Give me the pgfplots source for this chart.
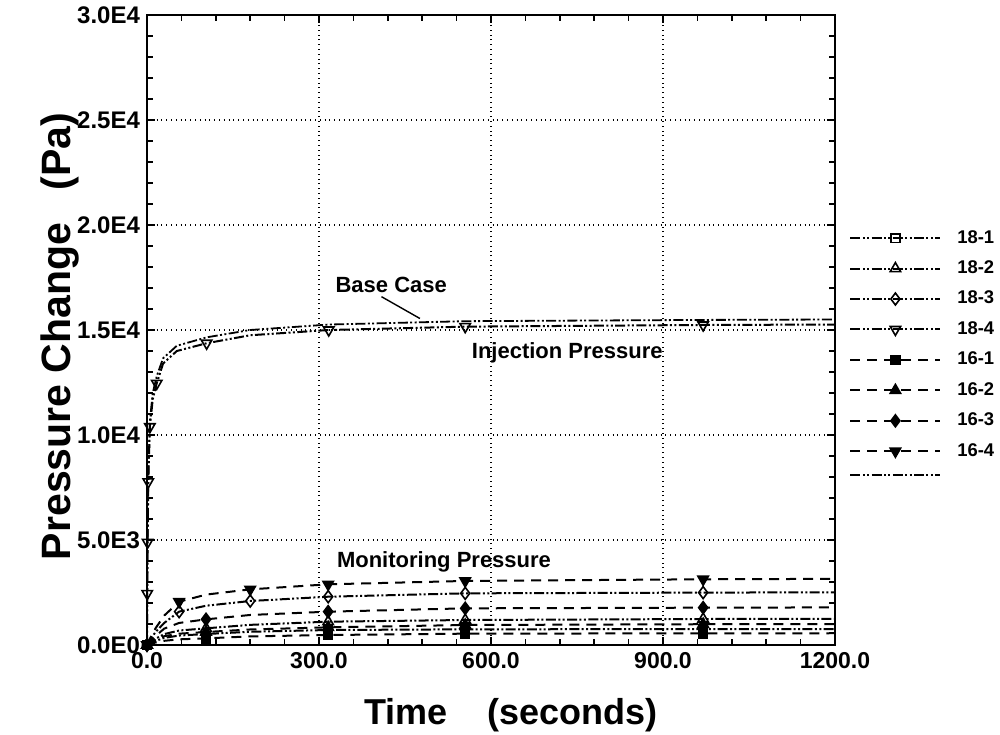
\documentclass[border=0pt]{standalone}
\usepackage{fontspec}
\setmainfont{Liberation Sans}
\usepackage{pgfplots}
\pgfplotsset{compat=1.18}

% line styles of the two families of runs
\tikzset{
  ddot/.style={line width=1pt, dash pattern=on 5pt off 1.2pt on 1pt off 1.2pt on 1pt off 1.2pt},
  dsh/.style={line width=1pt, dash pattern=on 5pt off 3.5pt},
  omark/.style={mark options={solid, fill=white, line width=0.8pt}},
  fmark/.style={mark options={solid, fill=black, line width=0.8pt}},
}

\begin{document}
\begin{tikzpicture}[x=1pt,y=1pt]
\path[use as bounding box] (-73.5,-44.5) rectangle (426.5,322.5);
\begin{axis}[
  at={(0,0)}, anchor=south west,
  width=344pt, height=315pt, scale only axis,
  xmin=0, xmax=1200, ymin=0, ymax=30000,
  xtick={0,300,600,900,1200},
  xticklabels={0.0,300.0,600.0,900.0,1200.0},
  ytick={0,5000,10000,15000,20000,25000,30000},
  yticklabels={0.0E0,5.0E3,1.0E4,1.5E4,2.0E4,2.5E4,3.0E4},
  scaled ticks=false,
  minor x tick num=4, minor y tick num=4,
  tick align=inside, major tick length=4pt, minor tick length=3pt,
  every tick/.style={black, line width=0.8pt},
  xmajorgrids, ymajorgrids,
  grid style={black, dotted, line width=0.6pt},
  axis line style={line width=1.1pt},
  tick label style={font=\fontsize{11.5}{13}\selectfont\bfseries},
  yticklabel style={font=\fontsize{12}{13}\selectfont\bfseries},
  xlabel={Time\hspace{1.1em}(seconds)},
  ylabel={Pressure Change\hspace{0.8em}(Pa)},
  xlabel style={font=\fontsize{18}{20}\selectfont\bfseries,
    at={(axis description cs:0.529,-0.111)}, anchor=center},
  ylabel style={font=\fontsize{20.5}{22}\selectfont\bfseries,
    at={(axis description cs:-0.1265,0.49)}, anchor=center},
  legend style={draw=none, fill=none, at={(axis description cs:1,0.667)},
    anchor=north west, xshift=4pt, column sep=7.5pt, row sep=6.3pt,
    font=\fontsize{9.2}{10}\selectfont\bfseries, nodes={inner sep=0.5pt}},
  legend cell align=left,
  legend image code/.code={
    \draw[#1, mark=none] (0pt,0pt) -- (45pt,0pt);
    \draw[#1, mark indices={1}] plot coordinates {(22.5pt,0pt)};},
]
% 18-1
\addplot[black, ddot, omark, mark=square, mark size=2.2pt, mark indices={1,6,8,9,10}]
  coordinates {(0,0)(5,70)(15,190)(30,340)(56,450)(103,524)(180,630)(316,714)(555,746)(970,758)(1200,760)};
\addlegendentry{18-1}
% 18-2
\addplot[black, ddot, omark, mark=triangle, mark size=3pt, mark indices={1,6,8,9,10}]
  coordinates {(0,0)(5,110)(15,300)(30,520)(56,690)(103,794)(180,960)(316,1111)(555,1190)(970,1238)(1200,1245)};
\addlegendentry{18-2}
% 18-3
\addplot[black, ddot, omark, mark=diamond, mark size=3pt, mark indices={1,5,7,8,9,10}]
  coordinates {(0,0)(5,230)(15,620)(30,1050)(56,1590)(103,1870)(180,2095)(316,2300)(555,2460)(970,2495)(1200,2510)};
\addlegendentry{18-3}
% 18-4 (injection pressure)
\addplot[black, ddot, mark options={solid, fill=white, line width=0.8pt, rotate=180}, mark=triangle, mark size=3pt,
  mark indices={2,3,4,5,7,10,12,13,14}]
  coordinates {(0,0)(0.4,2450)(1,4890)(2.2,7770)(5,10395)(10,11700)(17,12460)(28,13400)(52,14000)(104,14370)(180,14750)(317,15000)(555,15160)(970,15240)(1200,15260)};
\addlegendentry{18-4}
% 16-1
\addplot[black, dsh, fmark, mark=square*, mark size=2.2pt, mark indices={1,6,8,9,10}]
  coordinates {(0,0)(5,45)(15,120)(30,200)(56,270)(103,317)(180,410)(316,476)(555,540)(970,556)(1200,560)};
\addlegendentry{16-1}
% 16-2
\addplot[black, dsh, fmark, mark=triangle*, mark size=3pt, mark indices={1,6,8,9,10}]
  coordinates {(0,0)(5,90)(15,240)(30,420)(56,540)(103,619)(180,740)(316,841)(555,952)(970,990)(1200,1000)};
\addlegendentry{16-2}
% 16-3
\addplot[black, dsh, fmark, mark=diamond*, mark size=3pt, mark indices={1,6,8,9,10}]
  coordinates {(0,0)(5,160)(15,430)(30,780)(56,1050)(103,1222)(180,1430)(316,1587)(555,1746)(970,1778)(1200,1790)};
\addlegendentry{16-3}
% 16-4
\addplot[black, dsh, mark options={solid, fill=black, line width=0.8pt, rotate=180}, mark=triangle*, mark size=3pt,
  mark indices={1,5,7,8,9,10}]
  coordinates {(0,0)(5,300)(15,800)(30,1400)(56,2060)(103,2400)(180,2650)(316,2890)(555,3050)(970,3130)(1200,3150)};
\addlegendentry{16-4}
% base case
\addplot[black, ddot, line width=0.9pt]
  coordinates {(0,0)(0.4,2550)(1,5050)(2.2,8000)(5,10650)(10,12000)(17,12800)(28,13650)(52,14250)(104,14650)(180,15000)(317,15260)(555,15420)(970,15480)(1200,15500)};
\addlegendentry{}

\node[font=\fontsize{11}{12}\selectfont\bfseries] at (axis cs:426,17143) {Base Case};
\draw[line width=0.7pt] (axis cs:409,16587) -- (axis cs:476,15548);
\node[font=\fontsize{11}{12}\selectfont\bfseries] at (axis cs:733,13905) {Injection Pressure};
\node[font=\fontsize{11}{12}\selectfont\bfseries] at (axis cs:518,3952) {Monitoring Pressure};
\end{axis}
\end{tikzpicture}
\end{document}
